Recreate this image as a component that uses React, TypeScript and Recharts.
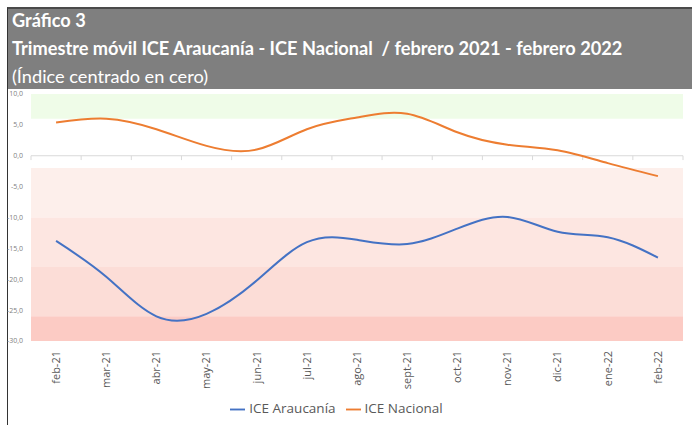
import React from "react";
import {
  LineChart,
  Line,
  XAxis,
  YAxis,
  ReferenceArea,
  ReferenceLine,
  Legend,
} from "recharts";

const months = [
  "feb-21", "mar-21", "abr-21", "may-21", "jun-21", "jul-21", "ago-21",
  "sept-21", "oct-21", "nov-21", "dic-21", "ene-22", "feb-22",
];
const araucania = [-13.8, -19.6, -26.0, -25.6, -20.2, -14.0, -13.6, -14.3, -11.8, -9.9, -12.3, -13.2, -16.5];
const nacional = [5.4, 6.0, 4.3, 1.6, 1.0, 4.3, 6.2, 6.8, 3.8, 1.8, 0.9, -1.2, -3.3];
const yTicks = [10, 5, 0, -5, -10, -15, -20, -25, -30];

// background zones: [from, to, colour]
const zones: [number, number, string][] = [
  [6, 10, "#effce8"],
  [-10, -2, "#fdefeb"],
  [-18, -10, "#fde6e1"],
  [-26, -18, "#fcddd7"],
  [-30, -26, "#fccbc4"],
];

const data = months.map((m, i) => ({
  i,
  month: m,
  araucania: araucania[i],
  nacional: nacional[i],
}));

const fmt = (v: number) => v.toFixed(1).replace(".", ",");

function MonthTick(props: any) {
  const { x, y, payload } = props;
  return (
    <text
      x={x}
      y={y}
      dy="0.35em"
      textAnchor="end"
      transform={`rotate(-90, ${x}, ${y})`}
      fontSize={11}
      fill="#595959"
      fontFamily="Open Sans, sans-serif"
    >
      {months[payload.value]}
    </text>
  );
}

export default function App() {
  return (
    <div
      style={{
        position: "fixed",
        left: 0,
        top: 0,
        width: 692,
        height: 425,
        background: "#fff",
        overflow: "hidden",
      }}
    >
      <div
        style={{
          position: "absolute",
          left: 7,
          top: 7,
          width: 685,
          height: 418,
          borderLeft: "1.5px solid #333",
          borderTop: "2px solid #4a4a4a",
        }}
      />
      <div
        style={{
          position: "absolute",
          left: 8,
          top: 9,
          width: 684,
          height: 80,
          background: "#7f7f7f",
          color: "#fff",
          fontFamily: "Lato, sans-serif",
          fontSize: 18.2,
          lineHeight: "28px",
          paddingLeft: 4,
          boxSizing: "border-box",
        }}
      >
        <div style={{ marginTop: -3 }}>
          <div style={{ fontWeight: 700 }}>Gráfico 3</div>
          <div style={{ fontWeight: 700 }}>
            Trimestre móvil ICE Araucanía - ICE Nacional&nbsp; / febrero 2021 - febrero 2022
          </div>
          <div>(Índice centrado en cero)</div>
        </div>
      </div>
      <div style={{ position: "absolute", left: 0, top: 88 }}>
        <LineChart
          width={692}
          height={337}
          data={data}
          margin={{ top: 6, right: 9, left: 0, bottom: 4 }}
        >
          {zones.map(([a, b, c]) => (
            <ReferenceArea key={a} y1={a} y2={b} fill={c} fillOpacity={1} stroke="none" ifOverflow="visible" />
          ))}
          <ReferenceLine y={0} stroke="#d9d9d9" strokeWidth={1} />
          {months.concat("end").map((_, k) => (
            <ReferenceLine
              key={"t" + k}
              segment={[
                { x: k - 0.5, y: 0 },
                { x: k - 0.5, y: -0.7 },
              ]}
              stroke="#d9d9d9"
              ifOverflow="visible"
            />
          ))}
          <XAxis
            dataKey="i"
            type="number"
            domain={[-0.5, 12.5]}
            ticks={months.map((_, i) => i)}
            interval={0}
            axisLine={false}
            tickLine={false}
            tick={<MonthTick />}
            height={58}
            tickMargin={4}
          />
          <YAxis
            domain={[-30, 10]}
            ticks={yTicks}
            interval={0}
            width={31}
            axisLine={false}
            tickLine={false}
            tickFormatter={fmt}
            tick={{ fontSize: 7, fill: "#7f7f7f", fontFamily: "Open Sans, sans-serif" }}
            tickMargin={2}
          />
          <Legend
            verticalAlign="bottom"
            height={22}
            iconType="plainline"
            iconSize={15}
            wrapperStyle={{ fontSize: 13.5, fontFamily: "Open Sans, sans-serif", color: "#595959" }}
            formatter={(v) => <span style={{ color: "#595959" }}>{v}</span>}
          />
          <Line
            type="natural"
            dataKey="araucania"
            name="ICE Araucanía"
            stroke="#4472c4"
            strokeWidth={2}
            dot={false}
            isAnimationActive={false}
          />
          <Line
            type="natural"
            dataKey="nacional"
            name="ICE Nacional"
            stroke="#ed7d31"
            strokeWidth={2}
            dot={false}
            isAnimationActive={false}
          />
        </LineChart>
      </div>
    </div>
  );
}
